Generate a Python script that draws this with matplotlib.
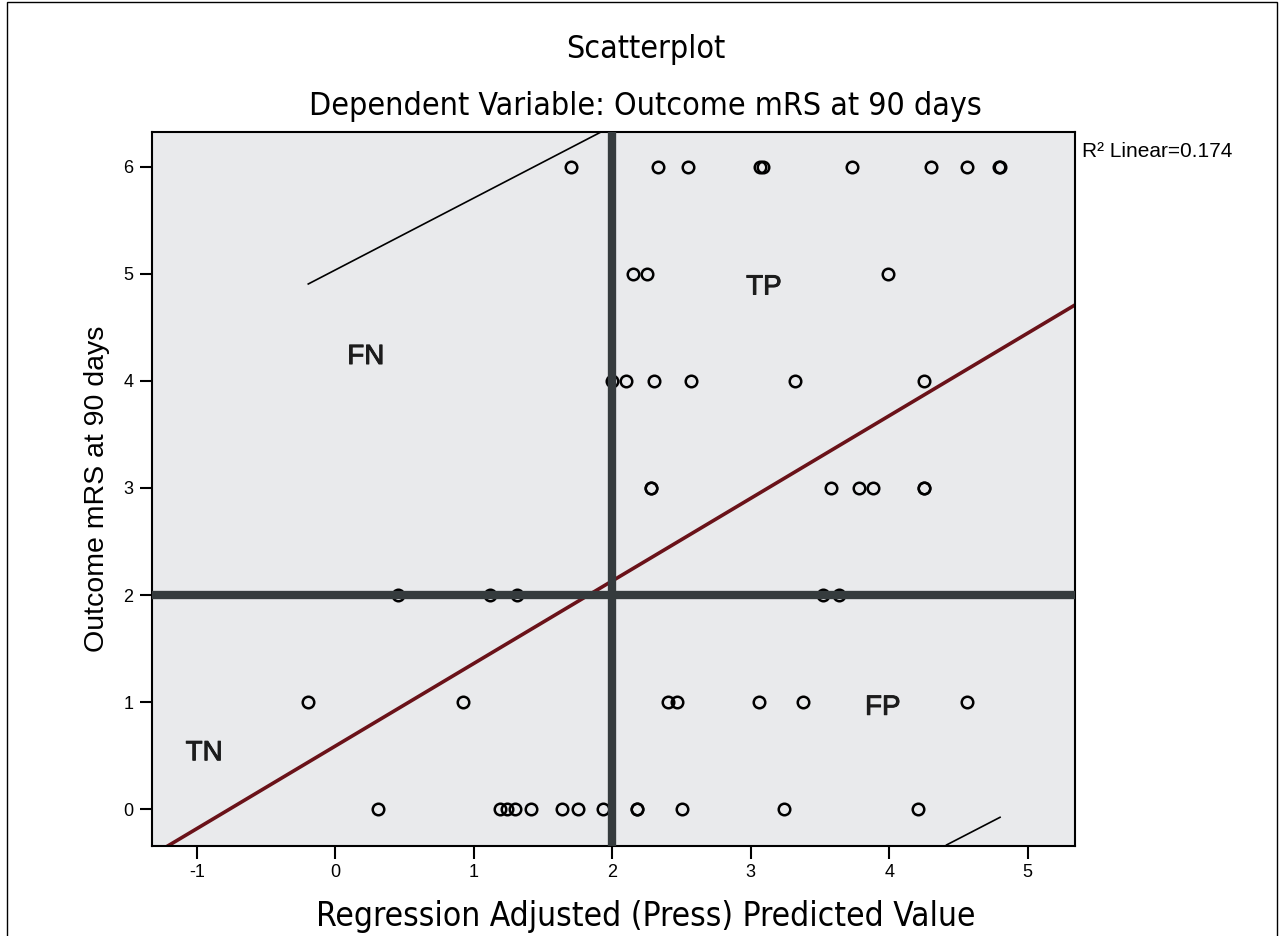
import matplotlib
matplotlib.use('Agg')
import matplotlib.pyplot as plt
import matplotlib.patheffects as pe
from matplotlib.patches import Rectangle
import numpy as np

plt.rcParams['axes.unicode_minus'] = False

# predicted values (x) for each observed outcome level (y)
mrs_levels = [6, 5, 4, 3, 2, 1, 0]
pred_mrs6 = [1.70, 2.33, 2.55, 3.07, 3.09, 3.73, 4.30, 4.56, 4.79, 4.80]
pred_mrs5 = [2.15, 2.25, 3.99]
pred_mrs4 = [2.00, 2.10, 2.30, 2.57, 3.32, 4.25]
pred_mrs3 = [2.28, 2.28, 3.58, 3.78, 3.88, 4.25, 4.25]
pred_mrs2 = [0.45, 1.12, 1.31, 3.52, 3.64]
pred_mrs1 = [-0.195, 0.924, 2.40, 2.47, 3.06, 3.38, 4.56]
pred_mrs0 = [0.31, 1.19, 1.24, 1.30, 1.41, 1.64, 1.75, 1.935, 2.18, 2.18, 2.50, 3.24, 4.21]

# fit line and prediction band ends
fit_x = [-1.206, 5.341]
fit_y = [-0.34, 4.709]
upper_x = [-0.195, 1.923]
upper_y = [4.905, 6.327]
lower_x = [4.414, 4.80]
lower_y = [-0.333, -0.075]

cutoff_x = 2
cutoff_y = 2
r2 = 0.174

quad_labels = ['FN', 'TP', 'TN', 'FP']
quad_x = [0.220, 3.095, -0.947, 3.953]
quad_y = [4.223, 4.872, 0.523, 0.948]

x_ticks = [-1, 0, 1, 2, 3, 4, 5]
y_ticks = [0, 1, 2, 3, 4, 5, 6]

fig = plt.figure(figsize=(12.84, 9.36), dpi=100)
ax = fig.add_axes([0.1181, 0.0965, 0.7191, 0.7628])
ax.set_facecolor('#e9eaec')

groups = [pred_mrs6, pred_mrs5, pred_mrs4, pred_mrs3, pred_mrs2, pred_mrs1, pred_mrs0]
for lvl, xs in zip(mrs_levels, groups):
    ax.plot(xs, [lvl] * len(xs), 'o', mfc='none', mec='black', ms=8.3, mew=1.8, zorder=3)

ax.plot(fit_x, fit_y, color='#6a1219', lw=2.6, zorder=2)
ax.plot(upper_x, upper_y, color='black', lw=1.2, zorder=2)
ax.plot(lower_x, lower_y, color='black', lw=1.2, zorder=2)

ax.axvline(cutoff_x, color='#353b3d', lw=6, zorder=4)
ax.axhline(cutoff_y, color='#353b3d', lw=6, zorder=4)

for lab, qx, qy in zip(quad_labels, quad_x, quad_y):
    ax.text(qx, qy, lab, fontsize=20, family='Liberation Sans', color='#1c1c1c',
            ha='center', va='center', zorder=5,
            path_effects=[pe.withStroke(linewidth=0.7, foreground='#1c1c1c')])

ax.set_xlim(-1.326, 5.341)
ax.set_ylim(-0.34, 6.327)
ax.set_xticks(x_ticks)
ax.set_yticks(y_ticks)
ax.tick_params(length=9, width=1.5, labelsize=13, pad=4)
for lab in ax.get_xticklabels() + ax.get_yticklabels():
    lab.set_family('Liberation Sans')
for s in ax.spines.values():
    s.set_linewidth(1.5)

fig.text(0.503, 0.9466, 'Scatterplot', ha='center', va='center', fontsize=23,
         family='DejaVu Sans', fontstretch='condensed')
fig.text(0.503, 0.8857, 'Dependent Variable: Outcome mRS at 90 days', ha='center',
         va='center', fontsize=23, family='DejaVu Sans', fontstretch='condensed')
fig.text(0.503, 0.0203, 'Regression Adjusted (Press) Predicted Value', ha='center',
         va='center', fontsize=24, family='DejaVu Sans', fontstretch='condensed')
fig.text(0.0755, 0.478, 'Outcome mRS at 90 days', rotation=90, ha='center',
         va='center', fontsize=20.5, family='Liberation Sans')
fig.text(0.8427, 0.832, 'R\u00b2 Linear=%.3f' % r2, ha='left', va='baseline',
         fontsize=15, family='Liberation Sans')

fig.patches.append(Rectangle((7 / 1284, -0.1), 1270 / 1284, 1.1 - 2 / 936,
                             transform=fig.transFigure, fill=False, lw=1, ec='black'))

fig.savefig('out.png', dpi=100)
